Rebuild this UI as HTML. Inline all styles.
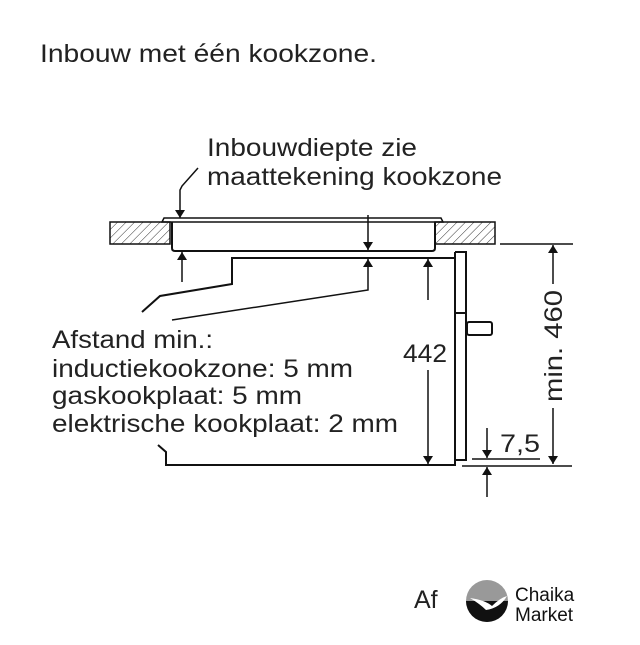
<!DOCTYPE html>
<html><head><style>
body{margin:0;background:#fff;}
svg text{font-family:"Liberation Sans",sans-serif;fill:#222;font-size:25px;}
</style></head><body>
<svg width="640" height="640" viewBox="0 0 640 640" xmlns="http://www.w3.org/2000/svg">
<defs>
<pattern id="h" width="6" height="6" patternUnits="userSpaceOnUse" patternTransform="rotate(45)">
<line x1="0" y1="0" x2="0" y2="6" stroke="#333" stroke-width="1"/>
</pattern>
<marker id="a" markerWidth="8" markerHeight="10" refX="8" refY="5" orient="auto" markerUnits="userSpaceOnUse">
<path d="M0,0 L8,5 L0,10z" fill="#111"/>
</marker>
</defs>
<text x="40" y="62" textLength="337" lengthAdjust="spacingAndGlyphs">Inbouw met één kookzone.</text>
<text x="207" y="156" textLength="210" lengthAdjust="spacingAndGlyphs">Inbouwdiepte zie</text>
<text x="207" y="185" textLength="295" lengthAdjust="spacingAndGlyphs">maattekening kookzone</text>
<g stroke="#111" stroke-width="2" fill="none">
<rect x="110" y="222" width="60" height="22" fill="url(#h)" stroke-width="1.5"/>
<rect x="435" y="222" width="60" height="22" fill="url(#h)" stroke-width="1.5"/>
<path d="M162,222 L164,218 L441,218 L443,222 Z" stroke-width="1.5"/>
<path d="M172,222 L172,248 Q172,251 175,251 L432,251 Q435,251 435,248 L435,222"/>
<path d="M142,312 L160,296 L232,284 L232,258 L455,258"/>
<path d="M455,252 L466,252 L466,313 M455,252 L455,313 L466,313 M455,313 L455,460 L466,460 L466,313"/>
<rect x="467" y="322" width="25" height="13" rx="2"/>
<path d="M158,445 L166,452 L166,465 L455,465 L455,460"/>
<g stroke-width="1.5">
<path d="M198,168 L182,186 L180,190 L180,218" marker-end="url(#a)"/>
<path d="M182,282 L182,252" marker-end="url(#a)"/>
<path d="M368,215 L368,250" marker-end="url(#a)"/>
<path d="M172,320 L368,290 L368,259" marker-end="url(#a)"/>
<path d="M428,300 L428,259" marker-end="url(#a)"/>
<path d="M428,370 L428,464" marker-end="url(#a)"/>
<line x1="500" y1="244" x2="573" y2="244"/>
<path d="M553,284 L553,245" marker-end="url(#a)"/>
<path d="M553,408 L553,464" marker-end="url(#a)"/>
<line x1="462" y1="466" x2="572" y2="466"/>
<line x1="472" y1="459" x2="540" y2="459"/>
<path d="M487,428 L487,458" marker-end="url(#a)"/>
<path d="M487,497 L487,467" marker-end="url(#a)"/>
</g>
</g>
<text x="403" y="362" textLength="44" lengthAdjust="spacingAndGlyphs">442</text>
<text x="500" y="452" textLength="40" lengthAdjust="spacingAndGlyphs">7,5</text>
<text transform="translate(562,402) rotate(-90)" textLength="112" lengthAdjust="spacingAndGlyphs">min. 460</text>
<text x="52" y="348" textLength="161" lengthAdjust="spacingAndGlyphs">Afstand min.:</text>
<text x="52" y="377" textLength="301" lengthAdjust="spacingAndGlyphs">inductiekookzone: 5 mm</text>
<text x="52" y="404" textLength="250" lengthAdjust="spacingAndGlyphs">gaskookplaat: 5 mm</text>
<text x="52" y="432" textLength="346" lengthAdjust="spacingAndGlyphs">elektrische kookplaat: 2 mm</text>
<text x="414" y="608">Af</text>
<circle cx="487" cy="601" r="21" fill="#999"/>
<path d="M466,601 A21,21 0 0,0 508,601 Z" fill="#111"/>
<path d="M470,598 Q485,600 492,606 Q500,598 507,596 Q500,608 486,610 Q480,604 470,598Z" fill="#fff"/>
<text x="515" y="601" style="fill:#111;font-size:19px">Chaika</text>
<text x="515" y="621" style="fill:#111;font-size:19px">Market</text>
</svg>
</body></html>
